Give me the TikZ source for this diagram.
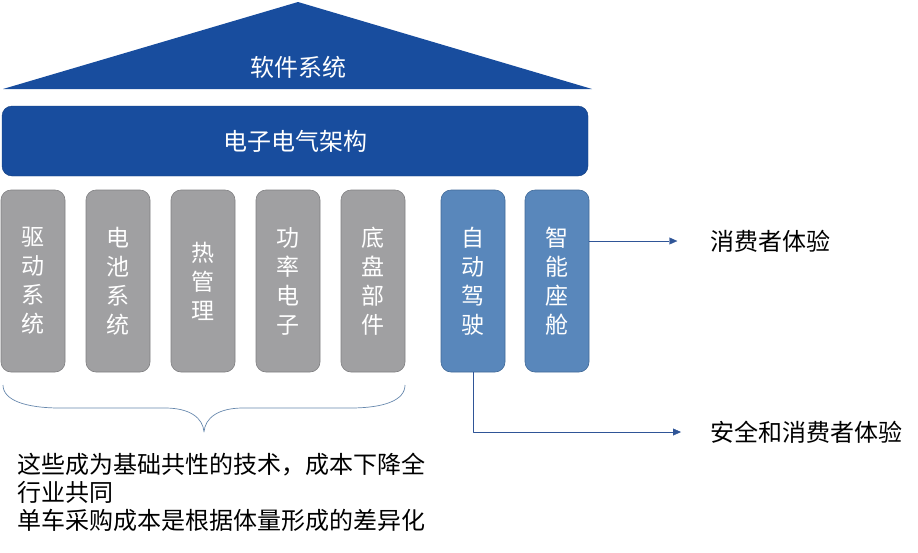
\documentclass[tikz,border=0pt]{standalone}
\usepackage{fontspec}
\setmainfont{Noto Sans CJK SC}
\usetikzlibrary{arrows.meta}
\definecolor{darkblue}{RGB}{24,77,158}
\definecolor{lightblue}{RGB}{89,135,187}
\definecolor{lightedge}{RGB}{65,106,152}
\definecolor{boxgray}{RGB}{160,160,162}
\definecolor{grayedge}{RGB}{128,128,130}
\definecolor{linkblue}{RGB}{47,85,151}
\begin{document}
\begin{tikzpicture}[x=1pt, y=-1pt, line join=round, >={Triangle[length=8pt,width=7pt]},
  pillar/.style={rounded corners=10pt, minimum width=64pt, minimum height=182pt, inner sep=0pt,
    align=center, text=white, font=\fontsize{23}{29}\selectfont},
  graybox/.style={pillar, fill=boxgray, draw=grayedge, line width=0.6pt},
  bluebox/.style={pillar, fill=lightblue, draw=lightedge, line width=0.6pt},
  caption/.style={anchor=west, font=\fontsize{24}{28}\selectfont}]
\useasboundingbox (0,0) rectangle (918,552);
% roof and beam
\fill[darkblue] (3,89) -- (298,2) -- (592,89) -- cycle;
\node[text=white, font=\fontsize{24}{28}\selectfont] (soft) at (298,67) {软件系统};
\node[fill=darkblue, draw=darkblue!80!black, rounded corners=10pt, minimum width=586pt, minimum height=70pt,
  text=white, font=\fontsize{24}{28}\selectfont] (ee) at (295,141) {电子电气架构};
% pillars
\foreach \name/\cx/\txt in {drive/33/驱\\动\\系\\统, batt/118/电\\池\\系\\统, heat/203/热\\管\\理,
  power/288/功\\率\\电\\子, chassis/373/底\\盘\\部\\件}
  \node[graybox] (\name) at (\cx,281) {\txt};
\node[bluebox] (ad) at (473,281) {自\\动\\驾\\驶};
\node[bluebox] (cab) at (557,281) {智\\能\\座\\舱};
% outcomes
\node[caption] (cons) at (707,241) {消费者体验};
\node[caption] (safe) at (707,432) {安全和消费者体验};
\draw[->, linkblue] (cab.east |- cons) -- ++(88,0);
\draw[->, linkblue] (ad.south) |- (681,432);
% brace under the gray pillars
\draw[lightedge!80, line width=0.7pt] (3,385) .. controls (3,400) and (25,408) .. (60,408) -- (165,408)
  .. controls (190,408) and (203,418) .. (204,432) .. controls (205,418) and (218,408) .. (243,408)
  -- (350,408) .. controls (385,408) and (405,400) .. (405,385);
\node[caption, anchor=north west, align=left] (note) at (14,450)
  {这些成为基础共性的技术，成本下降全\\行业共同\\单车采购成本是根据体量形成的差异化};
\end{tikzpicture}
\end{document}
